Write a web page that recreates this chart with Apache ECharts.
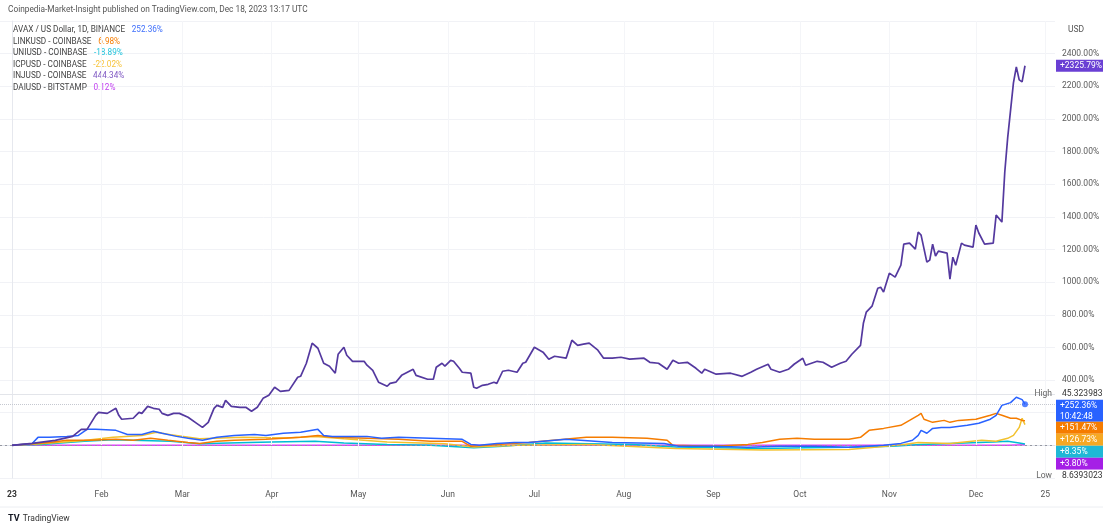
<!DOCTYPE html>
<html><head><meta charset="utf-8">
<script src="https://cdn.jsdelivr.net/npm/echarts@6/dist/echarts.min.js"></script>
<style>html,body{margin:0;padding:0;background:#fff;}#c{width:1103px;height:527px;}</style>
</head><body><div id="c"></div>
<script>
// ---- Data (x = day of 2023, 0 = Jan 1; y = % change) ----
const monthTickDays = [0,31,59,90,120,151,181,212,243,273,304,334,358];
const monthTickLabels = ['23','Feb','Mar','Apr','May','Jun','Jul','Aug','Sep','Oct','Nov','Dec','25'];

const injDays = [0,7,15,21,24,26,29,30,33,36, 37,38,42,44,45,47,49,51,52,54, 56,58,61,64,66,68,70,71,73,74,
  76,79,81,83,85,87,89,91,93,96, 99,100,102,104,106,108,110,112,113,115, 116,118,122,123,125,127,130,131,133,135,
  139,140,144,146,147,149,150,152,153,155, 156,159,160,161,163,165,167,168,170,172, 175,177,178,181,184,186,188,192,194,196,
  198,200,203,205,208,211,214,219,221,224, 227,229,231,234,237,239,240,244,249,253, 256,258,262,263,266,269,271,274,275,279,
  281,284,287,289,291,294,295,296,298,300, 301,302,304,306,308,309,311,313,314,315, 317,318,319,320,321,324,325,326,327,329,
  330,333,334,335,337,340,341,343,344,345, 347,348,349,350,351];
const injValues = [0,12,31,55,98,98,184,202,196,227, 184,160,166,202,196,239,227,221,196,184, 196,196,172,135,110,141,227,245,233,276,
  239,233,233,209,233,288,307,356,331,337, 417,423,503,626,595,503,485,442,558,601, 552,515,515,491,460,387,362,380,387,429,
  466,429,405,405,479,503,485,521,515,472, 448,442,356,350,368,374,387,380,454,460, 448,503,509,601,571,528,546,534,644,613,
  620,626,583,534,534,540,528,534,509,503, 466,521,503,509,472,442,466,436,442,423, 448,466,497,466,448,466,497,534,491,515,
  509,479,503,515,558,613,748,816,853,963, 969,939,1055,1031,1104,1233,1239,1202,1307,1288, 1123,1135,1233,1160,1190,1178,1018,1153,1104,1239,
  1227,1215,1350,1301,1233,1239,1411,1368,1675,1884, 2221,2319,2239,2227,2325.79];

const avaxDays = [0,7,9,13,19,23,26,29,36,40, 45,49,52,57,61,66,71,77,84,88, 94,100,104,106,108,111,118,123,128,134,
  145,156,159,162,168,174,179,192,197,208, 226,231,243,255,266,278,290,302,308,312, 314,315,317,319,322,325,331,335,339,341,
  343,346,348,350,351];
const avaxValues = [0,12,49,49,55,61,98,98,92,67, 67,86,74,55,43,31,49,61,67,61, 74,80,92,98,61,55,55,55,43,49,
  43,37,6,0,12,18,18,37,31,18, 12,-6,-6,-12,-6,-6,-12,0,12,31, 61,92,74,104,110,110,123,135,160,184,
  245,262,295,280,252.36];

const linkDays = [0,8,13,19,27,36,42,48,54,61, 65,71,77,88,100,106,111,123,134,145, 156,159,168,179,199,208,220,227,229,243,
  255,260,266,272,278,283,290,294,297,302, 308,311,314,315,316,319,323,325,328,334, 339,341,343,346,348,350,351];
const linkValues = [0,12,18,31,31,37,31,43,31,18, 12,25,31,37,49,61,49,43,37,25, 25,-6,6,18,49,49,43,31,0,-6,
  6,18,37,43,37,37,37,49,92,104, 123,153,184,196,160,141,153,141,153,160, 184,196,184,166,166,153,151.47];

const uniDays = [0,10,25,35,45,55,65,75,90,105, 115,130,145,160,170,185,200,215,230,245, 260,275,290,305,315,330,340,345,349,351];
const uniValues = [0,5,25,35,30,25,10,15,20,25, 15,5,0,-15,-5,15,10,5,-10,-15, -20,-15,-12,-5,5,15,20,25,15,8.35];

const icpDays = [0,10,25,35,45,50,55,65,80,95, 105,115,130,150,160,175,200,230,260,290, 300,309,314,325,336,341,345,347,349,350,351];
const icpValues = [0,10,30,50,60,80,65,40,50,45, 55,40,20,10,-10,0,5,-20,-28,-25, -10,5,18,12,31,25,43,61,110,166,126.73];

const daiDays = [0,60,120,180,240,300,345,351];
const daiValues = [0,0.1,0,0.1,0,0.1,0.1,3.8];

const avaxHighPct = 316;   // "High 45.323983"
const avaxLowPct = -21;    // "Low 8.6393023"
const highText = '45.323983';
const lowText = '8.6393023';

const titleText = 'Coinpedia-Market-Insight published on TradingView.com, Dec 18, 2023 13:17 UTC';
const legendNames = ['AVAX / US Dollar, 1D, BINANCE','LINKUSD - COINBASE','UNIUSD - COINBASE','ICPUSD - COINBASE','INJUSD - COINBASE','DAIUSD - BITSTAMP'];
const legendValues = ['252.36%','6.98%','-18.89%','-22.02%','444.34%','0.12%'];

// ---- Styles ----
const FONT = 'Roboto, "Liberation Sans", sans-serif';
const C = {
  avax:'#2962ff', link:'#f57c00', uni:'#00bcd4', icp:'#f2c12e', inj:'#54399f', dai:'#e040fb'
};
const LBL = { avax:'#2962ff', link:'#f57c00', icp:'#f6a823', uni:'#1fb8d6', dai:'#a51fe6', inj:'#6a3fd4' };
const legendColors = ['#3f6ffb','#f57c00','#22c3dc','#f6c33a','#7e57c2','#c13ff0'];

const pair = (d, v) => d.map((x, i) => [x, v[i]]);
const X0 = -4.158, X1 = 361.4;

const chart = echarts.init(document.getElementById('c'));

function lineSeries(name, d, v, color, z, w) {
  return { name, type:'line', data: pair(d, v), showSymbol:false, symbol:'none', smooth:false,
    lineStyle:{ color, width:w || 1.5 }, itemStyle:{ color }, z, silent:true, animation:false };
}

chart.setOption({
  animation:false,
  grid:{ left:0, right:48, top:21, bottom:49 },
  xAxis:{ type:'value', min:X0, max:X1,
    axisLine:{ show:true, lineStyle:{ color:'#e0e3eb' } }, axisTick:{ show:false }, splitLine:{ show:false },
    axisLabel:{ customValues: monthTickDays, margin:12, color:'#555', fontFamily:FONT, fontSize:8.5,
      formatter: v => { const i = monthTickDays.indexOf(v); if (i < 0) return ''; return i === 0 ? '{b|' + monthTickLabels[i] + '}' : monthTickLabels[i]; },
      rich:{ b:{ fontWeight:'bold', color:'#333', fontFamily:FONT, fontSize:8.5 } } } },
  yAxis:{ type:'value', position:'right', min:-200, max:2600, interval:200,
    axisLine:{ show:true, lineStyle:{ color:'#e6e8ee' } }, axisTick:{ show:false },
    splitLine:{ show:true, lineStyle:{ color:'#f1f2f6', width:1 } },
    axisLabel:{ margin:7, color:'#5a5a5a', fontFamily:FONT, fontSize:8.5,
      formatter: v => (v >= 400 && v <= 2400) ? v.toFixed(2) + '%' : '' } },
  series:[
    { type:'line', data:[], z:1, silent:true,
      markLine:{ silent:true, symbol:'none', label:{ show:false },
        data: monthTickDays.slice(1).map(d => ({ xAxis:d, lineStyle:{ color:'#f4f5f8', width:1, type:'solid' } }))
          .concat([
            { yAxis: avaxHighPct, lineStyle:{ color:'#e3e5ea', width:1, type:'solid' } },
            { yAxis: avaxValues[avaxValues.length-1], lineStyle:{ color:'#c5c8d0', width:1, type:'dotted' } },
            { yAxis: 0, lineStyle:{ color:'#9598a1', width:1, type:[2,3] } }
          ]) } },
    lineSeries('DAIUSD', daiDays, daiValues, C.dai, 2),
    lineSeries('UNIUSD', uniDays, uniValues, C.uni, 3),
    lineSeries('ICPUSD', icpDays, icpValues, C.icp, 4),
    lineSeries('LINKUSD', linkDays, linkValues, C.link, 5),
    lineSeries('AVAX', avaxDays, avaxValues, C.avax, 6),
    lineSeries('INJUSD', injDays, injValues, C.inj, 7, 1.7),
    { type:'scatter', data:[[avaxDays[avaxDays.length-1], avaxValues[avaxValues.length-1]]], symbolSize:6,
      itemStyle:{ color:C.avax }, z:8, silent:true }
  ]
});

// ---- Overlay texts ----
const g = [];
g.push({ type:'text', x:8, y:10, style:{ text:titleText, font:'8.3px ' + FONT, fill:'#555', verticalAlign:'middle' } });
legendNames.forEach((n, i) => {
  g.push({ type:'text', x:13, y:30 + i * 11.6, style:{ text:'{n|' + n + '}  {v|' + legendValues[i] + '}',
    verticalAlign:'middle', rich:{ n:{ font:'8.2px ' + FONT, fill:'#444' }, v:{ font:'8.2px ' + FONT, fill:legendColors[i] } } } });
});
g.push({ type:'text', x:1068, y:30, style:{ text:'USD', font:'8.5px ' + FONT, fill:'#555', verticalAlign:'middle' } });

const yPix = v => chart.convertToPixel({ yAxisIndex:0 }, v);
const fmt = v => '+' + v.toFixed(2) + '%';
function box(top, h, color, lines) {
  g.push({ type:'rect', shape:{ x:1056, y:top, width:47, height:h }, style:{ fill:color }, z:50 });
  lines.forEach((t, k) => g.push({ type:'text', x:1060, y:top + 6 + k * 11, z:51,
    style:{ text:t, font:'8.5px ' + FONT, fill:'#fff', verticalAlign:'middle' } }));
}
// INJ label
const injLast = injValues[injValues.length-1];
box(yPix(injLast) - 6, 12, LBL.inj, [fmt(injLast)]);

// stacked labels near the baseline
const stack = [
  { v:avaxHighPct, h:12, kind:'hl', label:'High', val:highText },
  { v:avaxValues[avaxValues.length-1], h:22, kind:'box', color:LBL.avax, lines:[fmt(avaxValues[avaxValues.length-1]), '10:42:48'] },
  { v:linkValues[linkValues.length-1], h:12, kind:'box', color:LBL.link, lines:[fmt(linkValues[linkValues.length-1])] },
  { v:icpValues[icpValues.length-1], h:12, kind:'box', color:LBL.icp, lines:[fmt(icpValues[icpValues.length-1])] },
  { v:uniValues[uniValues.length-1], h:12, kind:'box', color:LBL.uni, lines:[fmt(uniValues[uniValues.length-1])] },
  { v:daiValues[daiValues.length-1], h:12, kind:'box', color:LBL.dai, lines:[fmt(daiValues[daiValues.length-1])] },
  { v:avaxLowPct, h:12, kind:'hl', label:'Low', val:lowText }
];
let prevBottom = -1e9;
stack.forEach(s => {
  let top = yPix(s.v) - 6;
  if (top < prevBottom) top = prevBottom;
  prevBottom = top + s.h;
  if (s.kind === 'box') box(top, s.h, s.color, s.lines);
  else {
    g.push({ type:'rect', shape:{ x:1056, y:top, width:47, height:s.h }, style:{ fill:'#fff' }, z:50 });
    g.push({ type:'text', x:1052, y:top + 6, z:51, style:{ text:s.label, font:'8.5px ' + FONT, fill:'#666', align:'right', verticalAlign:'middle' } });
    g.push({ type:'text', x:1062, y:top + 6, z:51, style:{ text:s.val, font:'8.5px ' + FONT, fill:'#333', verticalAlign:'middle' } });
  }
});

// footer
g.push({ type:'line', shape:{ x1:0, y1:507, x2:1103, y2:507 }, style:{ stroke:'#eceef2', lineWidth:1 } });
g.push({ type:'text', x:8, y:519, style:{ text:'{l|TV} {t|TradingView}', verticalAlign:'middle',
  rich:{ l:{ font:'bold 9px ' + FONT, fill:'#131722' }, t:{ font:'8.5px ' + FONT, fill:'#333' } } } });

chart.setOption({ graphic: g });
</script>
</body></html>
